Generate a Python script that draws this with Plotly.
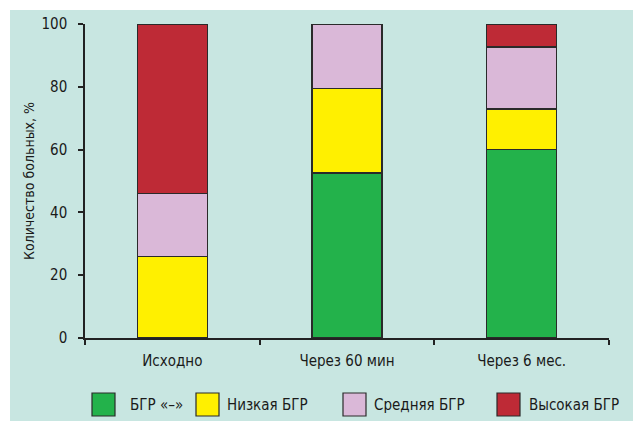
import plotly.graph_objects as go

categories = ["Исходно", "Через 60 мин", "Через 6 мес."]
series_names = ["БГР «–»", "Низкая БГР", "Средняя БГР", "Высокая БГР"]
series_colors = ["#23b24b", "#fff000", "#dab8d8", "#be2a36"]
bgr_neg = [0, 52.5, 60]
bgr_low = [26, 27, 13]
bgr_mid = [20, 20.5, 19.7]
bgr_high = [54, 0, 7.3]
series_values = [bgr_neg, bgr_low, bgr_mid, bgr_high]
y_ticks = [0, 20, 40, 60, 80, 100]

W, H = 633, 421
ML, MR, MT, MB = 85, 24, 24, 83
PW, PH = W - ML - MR, H - MT - MB
FONT = "Liberation Sans Narrow, DejaVu Sans Condensed, Arial Narrow, sans-serif"


def px(x):
    return (x - ML) / PW


def py(y):
    return (H - MB - y) / PH


fig = go.Figure()
for name, color, vals in zip(series_names, series_colors, series_values):
    fig.add_trace(go.Bar(
        x=categories, y=vals, name=name, width=0.4,
        marker=dict(color=color, line=dict(color="#2a2a2a", width=1.5)),
        showlegend=False,
    ))

shapes = [dict(type="rect", xref="paper", yref="paper",
               x0=px(10), x1=px(W + 5), y0=py(H + 5), y1=py(10),
               fillcolor="#c8e6e1", line=dict(width=0), layer="below")]
annotations = []
leg_sq_x = [92, 196, 343, 497]
leg_tx_x = [128, 225, 372, 527]
for name, color, sx, tx in zip(series_names, series_colors, leg_sq_x, leg_tx_x):
    shapes.append(dict(type="rect", xref="paper", yref="paper",
                       x0=px(sx), x1=px(sx + 23), y0=py(416), y1=py(393),
                       fillcolor=color, line=dict(color="#2a2a2a", width=1.2)))
    annotations.append(dict(xref="paper", yref="paper", x=px(tx), y=py(405),
                            xanchor="left", yanchor="middle", showarrow=False,
                            text=name, font=dict(family=FONT, size=15, color="#1a1a1a")))

fig.update_layout(
    barmode="stack",
    width=W, height=H,
    margin=dict(l=ML, r=MR, t=MT, b=MB),
    paper_bgcolor="white",
    plot_bgcolor="rgba(0,0,0,0)",
    font=dict(family=FONT, size=15, color="#1a1a1a"),
    shapes=shapes,
    annotations=annotations,
    xaxis=dict(
        type="category", range=[-0.5, 2.5], tickson="boundaries",
        showline=True, linecolor="#222", linewidth=1.5,
        ticks="outside", ticklen=5, tickcolor="#222", tickwidth=1.5,
        showgrid=False, zeroline=False, ticklabelstandoff=8,
        tickfont=dict(family=FONT, size=15, color="#1a1a1a"),
    ),
    yaxis=dict(
        range=[0, 100], tickvals=y_ticks,
        showline=True, linecolor="#222", linewidth=1.5,
        ticks="outside", ticklen=5, tickcolor="#222", tickwidth=1.5,
        showgrid=False, zeroline=False, ticklabelstandoff=8,
        tickfont=dict(family=FONT, size=15, color="#1a1a1a"),
        title=dict(text="Количество больных, %", standoff=4,
                   font=dict(family=FONT, size=14, color="#1a1a1a")),
    ),
)

fig.write_html("out.html")
